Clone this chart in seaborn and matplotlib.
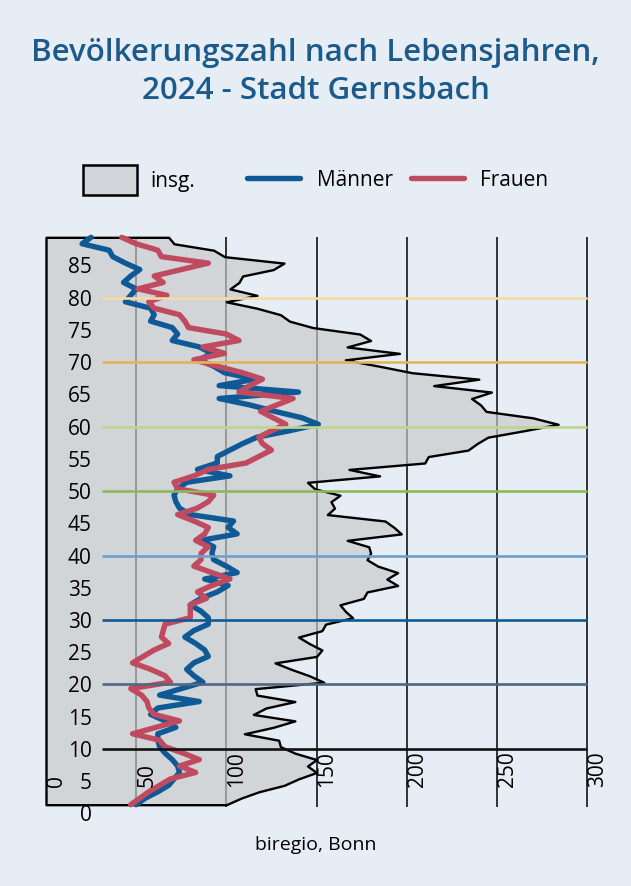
import numpy as np
import pandas as pd
import matplotlib
matplotlib.use('Agg')
import matplotlib.pyplot as plt
from matplotlib.patches import Patch
from matplotlib.lines import Line2D
import seaborn as sns

# population by single year of age (1..89), Stadt Gernsbach 2024
ages = list(range(1, 90))
men = [50, 55, 62, 68, 71, 74, 73, 70, 66, 63,
       62, 62, 72, 66, 58, 62, 85, 63, 75, 87,
       82, 78, 82, 90, 88, 83, 77, 82, 90, 90,
       86, 80, 86, 95, 101, 88, 106, 100, 93, 92,
       93, 86, 106, 101, 104, 80, 74, 72, 71, 73,
       78, 102, 84, 95, 95, 102, 109, 117, 135, 151,
       142, 127, 113, 96, 140, 96, 116, 99, 93, 85,
       92, 85, 70, 73, 70, 58, 60, 58, 44, 47,
       50, 43, 47, 52, 44, 37, 35, 20, 25]
women = [47, 52, 57, 63, 69, 83, 74, 85, 76, 66,
         63, 48, 61, 74, 60, 57, 56, 53, 47, 69,
         66, 58, 48, 54, 60, 68, 64, 65, 66, 80,
         80, 80, 89, 84, 92, 102, 92, 82, 86, 86,
         90, 83, 88, 90, 82, 73, 84, 90, 93, 73,
         71, 82, 90, 111, 118, 125, 120, 118, 125, 133,
         126, 119, 128, 137, 107, 113, 120, 109, 95, 82,
         99, 87, 107, 100, 79, 77, 74, 60, 57, 67,
         51, 65, 60, 75, 90, 64, 62, 50, 42]
total = [100, 108, 118, 132, 140, 150, 145, 150, 138, 130,
         129, 110, 126, 138, 115, 122, 138, 117, 116, 154,
         146, 136, 127, 150, 153, 146, 140, 153, 155, 170,
         166, 163, 176, 178, 195, 189, 195, 184, 178, 180,
         179, 167, 197, 193, 188, 156, 160, 158, 163, 149,
         145, 185, 168, 210, 212, 234, 239, 245, 265, 284,
         270, 244, 241, 236, 247, 215, 240, 203, 185, 166,
         196, 167, 180, 174, 148, 135, 130, 117, 100, 117,
         102, 107, 109, 126, 132, 99, 93, 71, 68]

x_ticks = [0, 50, 100, 150, 200, 250, 300]
y_ticks = list(range(0, 90, 5))
decades = [10, 20, 30, 40, 50, 60, 70, 80]
decade_colors = ['#111111', '#4f6882', '#0f5a96', '#6c9fcc',
                 '#8cb85c', '#bdd68d', '#e3b55a', '#f4dba6']

bg = '#e6edf4'
blue = '#0f5a96'
red = '#c04a60'

sns.set_theme(style='white')
plt.rcParams['font.family'] = ['Open Sans', 'DejaVu Sans']
plt.rcParams['text.color'] = 'black'

fig = plt.figure(figsize=(6.31, 8.86), dpi=100, facecolor=bg)
ax = fig.add_axes([46 / 631, 1 - 813.4 / 886, 541 / 631, (813.4 - 237) / 886])
ax.set_facecolor(bg)

pos = np.array(ages) + 0.35

ax.vlines(x_ticks[1:], 1.0, 89.4, color='black', lw=1.1, zorder=1, clip_on=False)
ax.fill_betweenx(pos, 0, total, facecolor=(0.78, 0.792, 0.80, 0.68),
                 edgecolor='black', lw=1.7, zorder=2, clip_on=False)

df = pd.DataFrame({
    'pos': np.concatenate([pos, pos]),
    'value': men + women,
    'sex': ['Männer'] * len(men) + ['Frauen'] * len(women),
})
sns.lineplot(data=df, x='value', y='pos', hue='sex', hue_order=['Männer', 'Frauen'],
             palette={'Männer': blue, 'Frauen': red}, sort=False, estimator=None,
             orient='y', lw=3.9, legend=False, ax=ax, zorder=3)
for ln in ax.lines:
    ln.set_clip_on(False)
    ln.set_solid_joinstyle('round')

ax.hlines(decades, 31, 300, colors=decade_colors, lw=1.9, zorder=5, clip_on=False)

ax.set_xlim(0, 300)
ax.set_ylim(0, 89.4)
ax.set_xticks([])
ax.set_yticks(y_ticks)
ax.set_yticklabels([str(t) for t in y_ticks])
ax.tick_params(axis='y', length=0, pad=-33, labelsize=15, labelcolor='black')
ax.yaxis.set_zorder(6)
ax.set_xlabel('')
ax.set_ylabel('')
for s in ax.spines.values():
    s.set_visible(False)

for xv in x_ticks:
    ax.text(xv, 4.1, str(xv), rotation=90, ha='left', va='bottom',
            fontsize=15, color='black', zorder=6)

fig.text(0.5, 1 - 72 / 886, 'Bevölkerungszahl nach Lebensjahren,\n2024 - Stadt Gernsbach',
         ha='center', va='center', fontsize=22.5, color='#1c5a8c',
         fontweight='semibold', linespacing=1.33)

leg1 = fig.legend(handles=[Patch(facecolor='#d1d5d9', edgecolor='black', lw=1.8)],
                  labels=['insg.'], loc='center left',
                  bbox_to_anchor=(83 / 631, 1 - 180 / 886), frameon=False,
                  fontsize=15, handlelength=2.6, handleheight=1.8,
                  handletextpad=0.65, borderpad=0, borderaxespad=0,
                  labelcolor='black')
leg2 = fig.legend(handles=[Line2D([], [], color=blue, lw=3.9),
                           Line2D([], [], color=red, lw=3.9)],
                  labels=['Männer', 'Frauen'], ncol=2, loc='center left',
                  bbox_to_anchor=(247 / 631, 1 - 180 / 886), frameon=False,
                  fontsize=15, handlelength=2.55, handletextpad=0.8,
                  columnspacing=0.85, borderpad=0, borderaxespad=0,
                  labelcolor='black')

fig.text(0.5, 1 - 845 / 886, 'biregio, Bonn', ha='center', va='center',
         fontsize=14, color='black')

fig.savefig('out.png', dpi=100, facecolor=bg)
